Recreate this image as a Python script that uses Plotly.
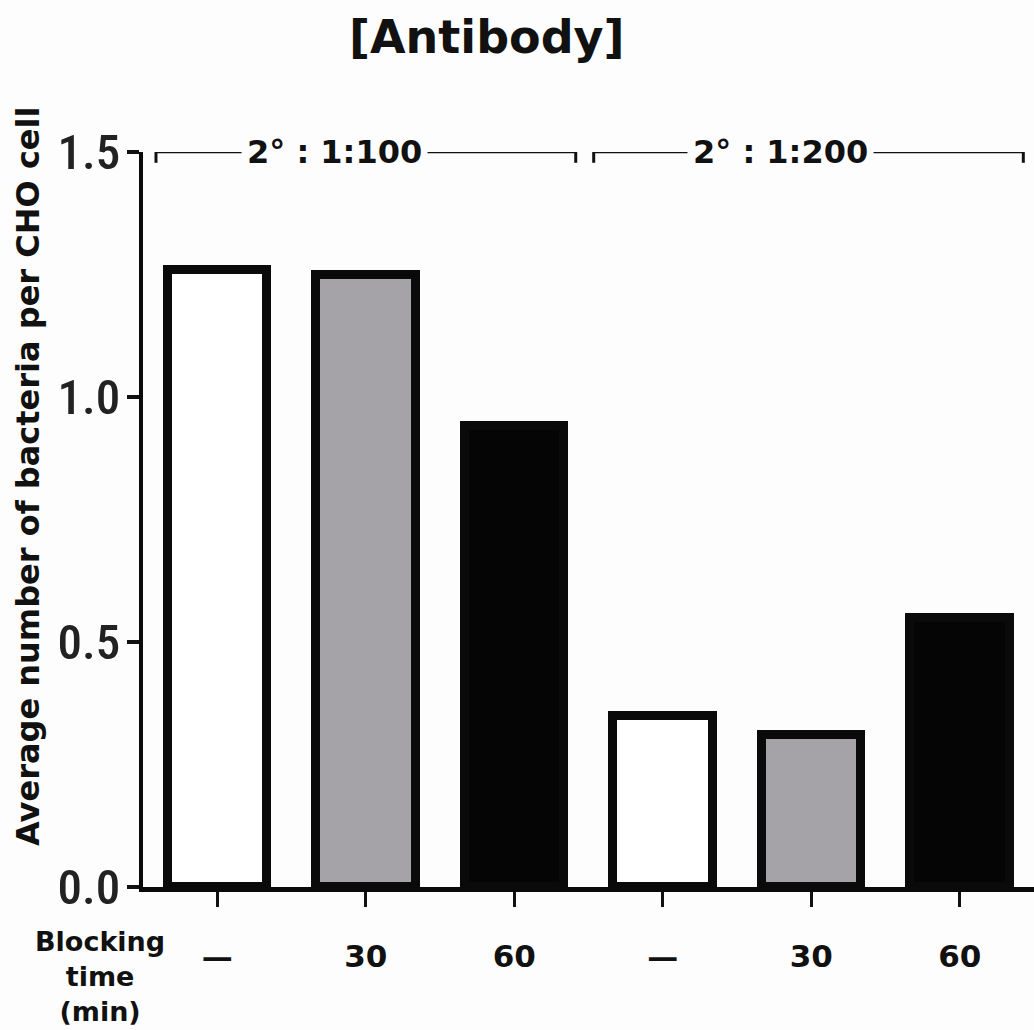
import plotly.graph_objects as go

# ---- data ----
dilutions = ["2° : 1:100", "2° : 1:200"]
blocking_labels = ["—", "30", "60"]
values_1_100 = [1.26, 1.25, 0.94]
values_1_200 = [0.35, 0.31, 0.55]
fill_colors = ["#ffffff", "#a5a3a8", "#050505"]
y_ticks = [0.0, 0.5, 1.0, 1.5]
y_tick_text = ["0.0", "0.5", "1.0", "1.5"]
title_text = "[Antibody]"
y_title = "Average number of bacteria per CHO cell"
x_title = "Blocking<br>time<br>(min)"

values = values_1_100 + values_1_200
labels = blocking_labels + blocking_labels
colors = fill_colors + fill_colors
xpos = list(range(len(values)))

W, H = 1034, 1030
ML, MR, MT, MB = 143, 0, 152, 143

fig = go.Figure()
fig.add_trace(go.Bar(
    x=xpos, y=values, width=0.67,
    marker=dict(color=colors, line=dict(color="#0a0a0a", width=9)),
    cliponaxis=False, showlegend=False,
))

bold = "DejaVu Sans"

fig.update_layout(
    width=W, height=H,
    margin=dict(l=ML, r=MR, t=MT, b=MB, autoexpand=False),
    paper_bgcolor="#fdfdfd", plot_bgcolor="#fdfdfd",
    bargap=0,
    xaxis=dict(
        range=[-0.5, len(values) - 0.5],
        tickmode="array", tickvals=xpos, ticktext=labels,
        ticks="outside", ticklen=15, tickwidth=3, tickcolor="#111",
        showline=True, linewidth=5, linecolor="#0a0a0a",
        showgrid=False, zeroline=False,
        tickfont=dict(family=bold, size=31, color="#111", weight="bold"),
        ticklabelstandoff=23,
    ),
    yaxis=dict(
        range=[0, 1.5],
        tickmode="array", tickvals=y_ticks, ticktext=y_tick_text,
        ticks="outside", ticklen=12, tickwidth=4, tickcolor="#111",
        showline=True, linewidth=4, linecolor="#0a0a0a",
        showgrid=False, zeroline=False,
        tickfont=dict(family="Roboto Condensed, Roboto, sans-serif",
                      size=49, color="#222", weight=500),
        ticklabelstandoff=-3,
    ),
)

# title
fig.add_annotation(text=title_text, xref="paper", yref="paper",
                   x=(487 - ML) / (W - ML - MR), y=(H - MB - 37) / (H - MT - MB),
                   xanchor="center", yanchor="middle", showarrow=False,
                   font=dict(family=bold, size=46, color="#111", weight="bold"))

# y title
fig.add_annotation(text=y_title, xref="paper", yref="paper",
                   x=(28 - ML) / (W - ML - MR), y=(H - MB - 476) / (H - MT - MB),
                   xanchor="center", yanchor="middle", textangle=-90, showarrow=False,
                   font=dict(family=bold, size=32, color="#111", weight="bold"))

# x title
fig.add_annotation(text=x_title, xref="paper", yref="paper",
                   x=(100 - ML) / (W - ML - MR), y=(H - MB - 977) / (H - MT - MB),
                   xanchor="center", yanchor="middle", showarrow=False,
                   font=dict(family=bold, size=27, color="#111", weight="bold"))

# dilution brackets
brackets = [(-0.4125, 2.414, 0.789), (2.535, 5.428, 3.793)]
cap = 0.022
for (x0, x1, xt), lab in zip(brackets, dilutions):
    fig.add_shape(type="line", xref="x", yref="y", x0=x0, x1=x1, y0=1.5, y1=1.5,
                  line=dict(color="#111", width=2.5))
    for xc in (x0, x1):
        fig.add_shape(type="line", xref="x", yref="y", x0=xc, x1=xc,
                      y0=1.5 - cap, y1=1.5 + cap, line=dict(color="#111", width=3))
    fig.add_annotation(text=lab, xref="x", yref="y", x=xt, y=1.5,
                       xanchor="center", yanchor="middle", showarrow=False,
                       bgcolor="#fdfdfd", borderpad=5,
                       font=dict(family=bold, size=32, color="#111", weight="bold"))

fig.write_html("out.html")
